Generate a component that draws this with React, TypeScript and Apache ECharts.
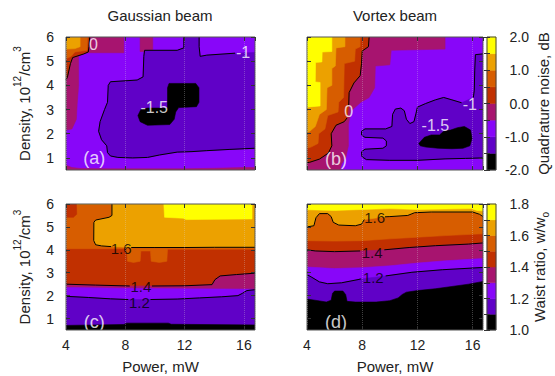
import React, { useEffect, useRef } from 'react';
import * as echarts from 'echarts';

type P = [number, number] | null;

const FONT = '"Liberation Sans", Arial, Helvetica, sans-serif';
const TEXT = '#222222';
// 8 discrete colour levels, low to high
const PALETTE = ['#000000', '#6001c7', '#8806f9', '#a7146f', '#c13000', '#d75d00', '#eca100', '#ffff00'];

const POWER_MIN = 4;
const POWER_MAX = 16.75;
const POWER_STEP = 4;
const DENSITY_MIN = 0.5;
const DENSITY_MAX = 6;
const DENSITY_TICKS = [1, 2, 3, 4, 5, 6];
const NOISE_LEVELS = [-2, -1.5, -1, -0.5, 0, 0.5, 1, 1.5, 2];
const WAIST_LEVELS = [1.0, 1.1, 1.2, 1.3, 1.4, 1.5, 1.6, 1.7, 1.8];
const TITLES = ['Gaussian beam', 'Vortex beam'];
const TAGS = ['(a)', '(b)', '(c)', '(d)'];
const TAG_AT: [number, number][] = [[5.9, 1.0], [6.1, 0.97], [5.9, 0.86], [6.1, 0.86]];

// ---------- (a) Gaussian beam, quadrature noise [power mW, density] ----------
const A_C0: P[] = [[4, 4.22], [4.1, 4.35], [4.3, 4.9], [4.45, 5.15], [5.2, 5.3], [5.5, 5.38], [5.55, 5.6], [5.6, 6.0]];
const A_CM1: P[] = [[15.4, 5.33], [13.5, 5.25], [13.05, 5.2], [12.98, 5.6], [12.98, 6], null,
  [11.95, 6], [11.95, 5.55], [11.5, 5.45], [9.3, 5.45], [9.25, 5.2], [9.2, 4.35], [8.8, 4.22], [7.0, 4.15],
  [6.85, 4.0], [6.8, 3.3], [6.6, 3.0], [6.3, 2.5], [6.2, 2.1], [6.4, 1.75], [6.75, 1.5], [6.8, 1.22], [7.0, 1.08],
  [7.5, 1.02], [8.5, 1.0], [9.5, 1.02], [10.3, 1.12], [11.5, 1.24], [12.5, 1.26], [13.5, 1.3], [15, 1.35], [16.75, 1.4]];
const A_MAG_LEFT: P[] = [[4, 6], [7.9, 6], [7.9, 5.35], [4.85, 5.35], [4.85, 4.0], [4.75, 3.2], [4.7, 2.6], [4.4, 2.2], [4, 2.15]];
const A_MAG_PATCH: P[] = [[9.0, 6], [9.85, 6], [9.85, 5.4], [9.0, 5.4]];
const A_MAG_BOTTOM: P[] = [[4, 0.5], [4, 0.7], [4.4, 0.6], [5, 0.56], [7, 0.55], [12, 0.55], [14, 0.57], [16, 0.6],
  [16.75, 0.6], [16.75, 0.5]];
const A_ORANGE: P[] = [[4, 6], [5.45, 6], [5.42, 5.45], [4.6, 5.38], [4.35, 5.2], [4, 5.1]];
const A_GOLD: P[] = [[4, 6], [4.95, 6], [4.95, 5.6], [4.6, 5.52], [4, 5.5]];
const A_BLACK: P[] = [[10.95, 4.08], [12.75, 4.08], [12.97, 3.9], [12.97, 3.3], [12.8, 3.12], [11.6, 3.08], [11.4, 2.9],
  [11.3, 2.6], [11.0, 2.38], [9.5, 2.35], [9.0, 2.5], [8.85, 2.75], [9.05, 3.0], [9.5, 3.06], [10.85, 3.06], [10.85, 3.9]];
const A_LABELS: [number, number, string][] = [[5.85, 5.67, '0'], [15.95, 5.36, '-1'], [9.95, 3.1, '-1.5']];

// ---------- (b) Vortex beam, quadrature noise ----------
const B_C0: P[] = [[8.5, 6], [8.45, 5.6], [8.0, 5.42], [7.95, 4.9], [7.85, 4.4], [7.4, 4.1], [7.05, 3.7], [7.02, 3.15], null,
  [6.9, 2.65], [6.7, 2.5], [6.1, 2.35], [5.75, 2.0], [5.8, 1.5], [5.55, 1.2], [4.9, 0.95], [4.2, 0.82], [4, 0.8]];
const B_CM1: P[] = [[16.75, 5.3], [16.2, 5.27], [16.15, 4.6], [16.12, 3.8], [16.05, 3.5], null,
  [15.2, 3.28], [14.5, 3.4], [13.9, 3.5], [13.3, 3.4], [12.6, 3.25], [12.0, 3.1], [11.9, 2.85], [11.75, 2.5],
  [11.45, 2.42], [11.2, 2.6], [11.05, 2.95], [10.8, 3.06], [10.4, 3.02], [10.2, 2.8], [10.15, 2.3], [9.7, 2.2],
  [8.2, 2.2], [7.95, 2.1], [7.95, 1.95], [8.2, 1.85], [9.5, 1.82], [9.75, 1.7], [9.75, 1.5], [9.5, 1.4], [8.2, 1.36],
  [7.95, 1.25], [7.98, 1.05], [8.3, 0.93], [10, 0.9], [12, 0.9], [14, 0.96], [15.5, 0.98], [16.75, 1.0]];
const B_MAGENTA: P[] = [[4, 6], [14.0, 6], [14.0, 5.5], [10.1, 5.45], [10.0, 4.85], [8.95, 4.8], [8.9, 3.9], [8.5, 3.5],
  [7.9, 3.3], [7.2, 2.95], [7.0, 2.4], [7.0, 1.5], [6.8, 1.0], [6.5, 0.75], [6.4, 0.5], [4, 0.5]];
const B_ORANGE: P[] = [[4, 6], [7.85, 6], [7.85, 5.6], [7.5, 5.5], [7.45, 5.0], [6.7, 4.9], [6.65, 3.5], [6.3, 3.3],
  [6.25, 2.9], [5.5, 2.75], [5.3, 2.2], [4.85, 2.0], [4.8, 1.6], [4.3, 1.45], [4, 1.4]];
const B_GOLD: P[] = [[4, 6], [6.75, 6], [6.75, 5.6], [6.1, 5.55], [6.05, 4.8], [5.8, 4.7], [5.8, 4.0], [5.45, 3.9],
  [5.4, 3.0], [4.9, 2.8], [4.6, 2.3], [4.2, 2.1], [4, 2.05]];
const B_YELLOW: P[] = [[4, 6], [5.8, 6], [5.8, 5.4], [5.1, 5.38], [5.08, 4.97], [4.62, 4.95], [4.6, 4.14], [4.95, 4.12],
  [4.95, 3.15], [4, 3.1]];
const B_BLACK: P[] = [[12.1, 1.6], [12.5, 1.85], [13.0, 1.95], [13.6, 1.95], [13.9, 2.1], [14.4, 2.15], [14.9, 2.25],
  [15.4, 2.3], [15.85, 2.15], [15.95, 1.8], [15.8, 1.5], [15.3, 1.4], [14.5, 1.38], [13.5, 1.4], [12.6, 1.45], [12.2, 1.5]];
const B_LABELS: [number, number, string][] = [[7.02, 2.9, '0'], [15.8, 3.2, '-1'], [13.3, 2.35, '-1.5']];

// ---------- (c) Gaussian beam, waist ratio ----------
const C_C16: P[] = [[7.1, 6], [7.1, 5.5], [6.9, 5.42], [6.0, 5.3], [5.88, 5.2], [5.87, 4.4], [6.0, 4.22], [6.4, 4.17],
  [7.05, 4.14], null, [8.4, 4.1], [10, 4.1], [12, 4.1], [14, 4.11], [16.75, 4.11]];
const C_C14: P[] = [[4, 2.5], [6, 2.46], [8.3, 2.42], null, [9.8, 2.42], [12, 2.43], [13.85, 2.48], [14.05, 2.7],
  [14.4, 2.86], [15.5, 2.92], [16.75, 2.98]];
const C_B13: P[] = [[4, 2.36], [8, 2.32], [12, 2.3], [16.75, 2.28]];
const C_C12: P[] = [[4, 1.97], [5.5, 1.92], [7, 1.86], [8.2, 1.83], null, [9.7, 1.83], [11.5, 1.85], [13, 1.9],
  [14.5, 1.95], [15.6, 2.0], [15.9, 2.1], [16.2, 2.22], [16.75, 2.26]];
const C_ORANGE: P[] = [[4, 6], [16.75, 6], [16.75, 4.03], [10.85, 4.03], [10.8, 3.5], [10.3, 3.45], [9.75, 3.5],
  [9.7, 3.95], [9.05, 3.95], [9.0, 3.5], [8.55, 3.45], [8.15, 3.5], [8.1, 4.05], [4, 4.05]];
const C_YELLOW: P[] = [[10.6, 6], [16.55, 6], [16.55, 5.35], [12.1, 5.32], [11.9, 5.38], [10.65, 5.42]];
const C_RED_CORNER: P[] = [[4, 6], [4.7, 6], [4.72, 5.55], [4.5, 5.42], [4, 5.42]];
const C_BLACK: P[] = [[4, 0.5], [4, 0.7], [6, 0.72], [7.9, 0.74], [8.1, 0.8], [10.9, 0.8], [11.1, 0.75], [16.75, 0.72], [16.75, 0.5]];
const C_LABELS: [number, number, string][] = [[7.72, 4.05, '1.6'], [9.05, 2.42, '1.4'], [8.95, 1.72, '1.2']];

// ---------- (d) Vortex beam, waist ratio ----------
const D_C16: P[] = [[4, 5.0], [4.5, 5.05], [4.65, 5.4], [4.9, 5.58], [5.5, 5.58], [5.75, 5.45], [5.9, 5.2], [6.3, 5.08],
  [7.5, 5.05], [7.95, 5.12], [8.15, 5.32], null, [9.65, 5.44], [10, 5.45], [11.3, 5.5], [11.8, 5.62], [13, 5.65],
  [16, 5.65], [16.5, 5.55], [16.75, 5.45]];
const D_B15: P[] = [[4, 4.4], [6, 4.38], [8, 4.4], [10, 4.48], [12, 4.55], [14, 4.62], [16.75, 4.7]];
const D_YELLOW: P[] = [[4, 6], [16.75, 6], [16.75, 5.7], [16.3, 5.72], [15.9, 5.8], [14, 5.78], [12, 5.76], [10, 5.8],
  [8, 5.76], [6, 5.72], [4, 5.75]];
const D_C14: P[] = [[4, 4.0], [4.6, 3.95], [6, 3.92], [7.85, 3.95], null, [9.6, 4.0], [11.4, 4.1], [13.3, 4.18],
  [15.7, 4.25], [16.75, 4.3]];
const D_B13: P[] = [[4, 3.25], [6, 3.18], [8, 3.22], [10, 3.3], [12, 3.42], [14, 3.52], [16.75, 3.62]];
const D_C12: P[] = [[4, 2.92], [4.35, 2.8], [4.9, 2.6], [5.5, 2.52], [6.5, 2.56], [7.7, 2.7], [7.9, 2.73], null,
  [9.7, 2.86], [11.6, 3.02], [13.8, 3.13], [16.75, 3.23]];
const D_BLACK: P[] = [[4, 0.5], [4, 1.85], [4.8, 1.78], [5.4, 1.72], [5.75, 1.8], [5.85, 2.1], [6.0, 2.2], [6.6, 2.2],
  [6.8, 2.05], [6.9, 1.75], [7.5, 1.72], [9, 1.72], [10, 1.78], [10.6, 1.9], [10.9, 2.05], [11.2, 2.15], [12, 2.22],
  [13.3, 2.3], [14.5, 2.4], [15.7, 2.5], [16.75, 2.62], [16.75, 0.5]];
const D_LABELS: [number, number, string][] = [[8.9, 5.4, '1.6'], [8.72, 3.88, '1.4'], [8.8, 2.8, '1.2']];

// ---------- helpers ----------
const solid = (c: P[]) => c.filter((p) => p !== null) as [number, number][];
const FULL: P[] = [[POWER_MIN, DENSITY_MIN], [POWER_MAX, DENSITY_MIN], [POWER_MAX, DENSITY_MAX], [POWER_MIN, DENSITY_MAX]];
const below = (c: P[]) => [...solid(c), [POWER_MAX, DENSITY_MIN], [POWER_MIN, DENSITY_MIN]] as [number, number][];
const above = (c: P[]) => [...solid(c), [POWER_MAX, DENSITY_MAX], [POWER_MIN, DENSITY_MAX]] as [number, number][];

type Region = [number, [number, number][]];
const PANELS: { regions: Region[]; contours: P[][]; labels: [number, number, string][]; labelColor: string; labelSize: number }[] = [
  {
    regions: [[2, solid(FULL)], [3, solid(A_MAG_LEFT)], [3, solid(A_MAG_PATCH)], [3, solid(A_MAG_BOTTOM)],
      [4, [...solid(A_C0), [4, 6]]], [5, solid(A_ORANGE)], [6, solid(A_GOLD)],
      [1, [[16.75, 5.36], ...solid(A_CM1)]], [0, solid(A_BLACK)]],
    contours: [A_C0, A_CM1], labels: A_LABELS, labelColor: '#ffffff', labelSize: 16,
  },
  {
    regions: [[2, solid(FULL)], [3, solid(B_MAGENTA)], [4, [...solid(B_C0), [4, 6]]], [5, solid(B_ORANGE)],
      [6, solid(B_GOLD)], [7, solid(B_YELLOW)], [1, solid(B_CM1)], [0, solid(B_BLACK)]],
    contours: [B_C0, B_CM1], labels: B_LABELS, labelColor: '#ffffff', labelSize: 16,
  },
  {
    regions: [[4, solid(FULL)], [5, solid(C_ORANGE)], [6, above(C_C16)], [7, solid(C_YELLOW)], [4, solid(C_RED_CORNER)],
      [3, below(C_C14)], [2, below(C_B13)], [1, below(C_C12)], [0, solid(C_BLACK)]],
    contours: [C_C16, C_C14, C_C12], labels: C_LABELS, labelColor: '#000000', labelSize: 15,
  },
  {
    regions: [[4, solid(FULL)], [5, above(D_B15)], [6, above(D_C16)], [7, solid(D_YELLOW)],
      [3, below(D_C14)], [2, below(D_B13)], [1, below(D_C12)], [0, solid(D_BLACK)]],
    contours: [D_C16, D_C14, D_C12], labels: D_LABELS, labelColor: '#000000', labelSize: 15,
  },
];

const RECTS = [[66, 37, 189, 133], [307, 37, 176, 133], [66, 204, 189, 126], [307, 204, 176, 126]];
const BAR_RECTS = [[487, 37, 9, 133], [487, 204, 9, 126]];

function segments(c: P[]) {
  const out: [number, number][][] = [];
  let cur: [number, number][] = [];
  c.forEach((p) => {
    if (p) cur.push(p);
    else { if (cur.length) out.push(cur); cur = []; }
  });
  if (cur.length) out.push(cur);
  return out;
}

function buildOption() {
  const grid: any[] = [];
  const xAxis: any[] = [];
  const yAxis: any[] = [];
  const series: any[] = [];
  const tick = { show: true, inside: true, length: 4, lineStyle: { color: '#333', width: 1 } };
  const nameStyle = { fontFamily: FONT, fontSize: 15, color: TEXT };

  PANELS.forEach((panel, i) => {
    const [l, t, w, h] = RECTS[i];
    const bottomRow = i >= 2;
    const leftCol = i % 2 === 0;
    grid.push({ left: l, top: t, width: w, height: h, show: true, borderColor: '#555', borderWidth: 1,
      backgroundColor: 'transparent', z: 10, outerBoundsMode: 'none' });
    const ax = xAxis.length;
    xAxis.push({
      type: 'value', gridIndex: i, min: POWER_MIN, max: POWER_MAX, interval: POWER_STEP, position: 'bottom', z: 10,
      axisLine: { show: false }, axisTick: tick,
      axisLabel: { show: bottomRow, showMaxLabel: false, fontFamily: FONT, fontSize: 14, color: TEXT, margin: 8 },
      splitLine: { show: true, lineStyle: { color: 'rgba(215,215,215,0.3)', type: 'dotted', width: 1 } },
      name: bottomRow ? 'Power, mW' : '', nameLocation: 'middle', nameGap: 29, nameTextStyle: nameStyle,
      nameMoveOverlap: false,
    });
    xAxis.push({
      type: 'value', gridIndex: i, min: POWER_MIN, max: POWER_MAX, interval: POWER_STEP, position: 'top', z: 10,
      axisLine: { show: false }, axisTick: tick, axisLabel: { show: false }, splitLine: { show: false },
    });
    const ay = yAxis.length;
    yAxis.push({
      type: 'value', gridIndex: i, min: DENSITY_MIN, max: DENSITY_MAX, position: 'left', z: 10,
      axisLine: { show: false }, axisTick: { ...tick, customValues: DENSITY_TICKS },
      axisLabel: { show: leftCol, customValues: DENSITY_TICKS, fontFamily: FONT, fontSize: 14, color: TEXT, margin: 12,
        formatter: (v: number) => (Number.isInteger(v) ? String(v) : '') },
      splitLine: { show: false },
      name: leftCol ? '{n|Density, 10}{s|12}{n|/cm}{s|3}' : '', nameLocation: 'middle', nameRotate: 90, nameGap: 34,
      nameMoveOverlap: false,
      nameTextStyle: {
        ...nameStyle,
        rich: {
          n: { fontFamily: FONT, fontSize: 15, color: TEXT, lineHeight: 20, verticalAlign: 'bottom' },
          s: { fontFamily: FONT, fontSize: 10, color: TEXT, lineHeight: 20, verticalAlign: 'top' },
        },
      },
    });
    yAxis.push({
      type: 'value', gridIndex: i, min: DENSITY_MIN, max: DENSITY_MAX, position: 'right', z: 10,
      axisLine: { show: false }, axisTick: { ...tick, customValues: DENSITY_TICKS },
      axisLabel: { show: false }, splitLine: { show: false },
    });

    const regions = panel.regions;
    series.push({
      type: 'custom', xAxisIndex: ax, yAxisIndex: ay, clip: true, silent: true, z: 1,
      data: regions.map((r, k) => [r[1][0][0], r[1][0][1], k]),
      encode: { x: 0, y: 1 },
      renderItem: (params: any, api: any) => {
        const r = regions[params.dataIndex];
        const c = PALETTE[r[0]];
        return {
          type: 'polygon', z2: params.dataIndex,
          shape: { points: r[1].map((p) => api.coord(p)) },
          style: { fill: c, stroke: c, lineWidth: 0.6 },
        };
      },
    });
    panel.contours.forEach((c) => {
      segments(c).forEach((s) => {
        series.push({ type: 'line', xAxisIndex: ax, yAxisIndex: ay, data: s, symbol: 'none', silent: true, z: 3,
          clip: true, lineStyle: { color: '#000000', width: 1 } });
      });
    });
    const items: any[] = panel.labels.map((lb) => ({
      value: [lb[0], lb[1]],
      label: { formatter: lb[2], color: panel.labelColor, fontSize: panel.labelSize },
    }));
    items.push({ value: TAG_AT[i], label: { formatter: TAGS[i], color: '#ffffff', fontSize: 18 } });
    series.push({
      type: 'scatter', xAxisIndex: ax, yAxisIndex: ay, silent: true, z: 5, symbolSize: 2,
      itemStyle: { color: 'rgba(0,0,0,0)' },
      label: { show: true, position: 'inside', fontFamily: FONT },
      data: items,
    });
  });

  // colour bars
  const bars = [
    { levels: NOISE_LEVELS, step: 0.5, name: 'Quadrature noise, dB', gap: 40, rich: null as any,
      fmt: (v: number) => (Math.abs(v - Math.round(v)) < 1e-6 ? v.toFixed(1) : '') },
    { levels: WAIST_LEVELS, step: 0.1, name: '{n|Waist ratio, w/w}{b|o}', gap: 36, rich: {
        n: { fontFamily: FONT, fontSize: 15, color: TEXT, lineHeight: 18, verticalAlign: 'top' },
        b: { fontFamily: FONT, fontSize: 10, color: TEXT, lineHeight: 18, verticalAlign: 'bottom' } },
      fmt: (v: number) => (Math.round(v * 10) % 2 === 0 ? v.toFixed(1) : '') },
  ];
  bars.forEach((b, j) => {
    const [l, t, w, h] = BAR_RECTS[j];
    const gi = grid.length;
    grid.push({ left: l, top: t, width: w, height: h, show: true, borderColor: '#444', borderWidth: 1,
      backgroundColor: 'transparent', z: 10, outerBoundsMode: 'none' });
    const ax = xAxis.length;
    xAxis.push({ type: 'value', gridIndex: gi, min: 0, max: 1, show: false });
    const ay = yAxis.length;
    const lo = b.levels[0];
    const hi = b.levels[b.levels.length - 1];
    yAxis.push({
      type: 'value', gridIndex: gi, min: lo, max: hi, interval: b.step, position: 'right', z: 10,
      axisLine: { show: false }, axisTick: { show: true, inside: true, length: 3, lineStyle: { color: '#333' } },
      axisLabel: { formatter: b.fmt, align: 'right', margin: 33, fontFamily: FONT, fontSize: 14, color: TEXT },
      splitLine: { show: false },
      name: b.name, nameLocation: 'middle', nameRotate: 90, nameGap: b.gap, nameMoveOverlap: false,
      nameTextStyle: b.rich ? { ...nameStyle, rich: b.rich } : nameStyle,
    });
    yAxis.push({
      type: 'value', gridIndex: gi, min: lo, max: hi, interval: b.step, position: 'left', z: 10,
      axisLine: { show: false }, axisTick: { show: true, inside: true, length: 3, lineStyle: { color: '#333' } },
      axisLabel: { show: false }, splitLine: { show: false },
    });
    const levels = b.levels;
    series.push({
      type: 'custom', xAxisIndex: ax, yAxisIndex: ay, silent: true, z: 1,
      data: levels.slice(0, -1).map((v, k) => [0, v, levels[k + 1], k]),
      encode: { x: 0, y: 1 },
      renderItem: (params: any, api: any) => {
        const p0 = api.coord([0, api.value(1)]);
        const p1 = api.coord([1, api.value(2)]);
        const c = PALETTE[api.value(3)];
        return { type: 'rect', shape: { x: p0[0], y: p1[1], width: p1[0] - p0[0], height: p0[1] - p1[1] },
          style: { fill: c, stroke: c, lineWidth: 0.5 } };
      },
    });
  });

  return {
    animation: false,
    backgroundColor: '#ffffff',
    textStyle: { fontFamily: FONT },
    grid, xAxis, yAxis, series,
    graphic: TITLES.map((tx, k) => ({
      type: 'text', x: k === 0 ? 160 : 395, y: 15, silent: true,
      style: { text: tx, fontFamily: FONT, fontSize: 15, fill: TEXT, align: 'center', verticalAlign: 'middle' },
    })),
  };
}

export default function App() {
  const ref = useRef<HTMLDivElement>(null);
  useEffect(() => {
    document.body.style.margin = '0';
    const chart = echarts.init(ref.current as HTMLDivElement, null, { renderer: 'svg' });
    chart.setOption(buildOption() as any);
    return () => chart.dispose();
  }, []);
  return <div ref={ref} style={{ width: 555, height: 376 }} />;
}
